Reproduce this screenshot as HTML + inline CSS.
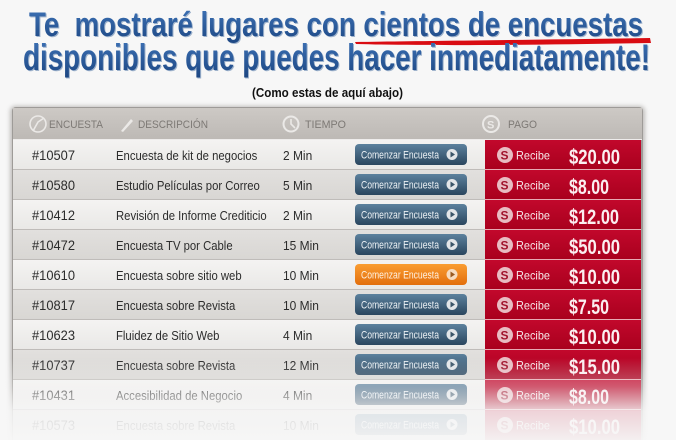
<!DOCTYPE html>
<html><head><meta charset="utf-8"><style>
html,body{margin:0;padding:0;background:#f7f7f7;}
svg{display:block;}
text{font-family:"Liberation Sans",sans-serif;}
</style></head><body>
<svg width="676" height="440" viewBox="0 0 676 440" xmlns="http://www.w3.org/2000/svg">
<defs>
<linearGradient id="tg" x1="0" y1="0" x2="0" y2="1"><stop offset="0" stop-color="#3f74b8"/><stop offset="1" stop-color="#1c4682"/></linearGradient>
<linearGradient id="hd" x1="0" y1="0" x2="0" y2="1"><stop offset="0" stop-color="#cdc9c5"/><stop offset="1" stop-color="#bdb9b5"/></linearGradient>
<linearGradient id="rl" x1="0" y1="0" x2="0" y2="1"><stop offset="0" stop-color="#f4f3f2"/><stop offset="1" stop-color="#e9e8e6"/></linearGradient>
<linearGradient id="rd" x1="0" y1="0" x2="0" y2="1"><stop offset="0" stop-color="#e2e0de"/><stop offset="1" stop-color="#d8d6d3"/></linearGradient>
<linearGradient id="red" x1="0" y1="0" x2="0" y2="1"><stop offset="0" stop-color="#c2082c"/><stop offset="1" stop-color="#a8001d"/></linearGradient>
<linearGradient id="btn" x1="0" y1="0" x2="0" y2="1"><stop offset="0" stop-color="#5c819d"/><stop offset="1" stop-color="#2a465e"/></linearGradient>
<linearGradient id="ora" x1="0" y1="0" x2="0" y2="1"><stop offset="0" stop-color="#fa9d32"/><stop offset="1" stop-color="#e26e0c"/></linearGradient>
<linearGradient id="fade" x1="0" y1="0" x2="0" y2="1">
<stop offset="0" stop-color="#f7f7f7" stop-opacity="0"/>
<stop offset="0.35" stop-color="#f7f7f7" stop-opacity="0.35"/>
<stop offset="0.65" stop-color="#f7f7f7" stop-opacity="0.85"/>
<stop offset="1" stop-color="#f7f7f7" stop-opacity="0.97"/>
</linearGradient>
<filter id="sh" x="-5%" y="-5%" width="110%" height="110%"><feGaussianBlur stdDeviation="2"/></filter>
</defs>

<rect x="0" y="0" width="676" height="440" fill="#f7f7f7"/>

<!-- Title -->
<path d="M355 42 C420 41 520 40 650 38 L651 43 C540 45 430 46 356 44 Z" fill="#d90c12"/>
<text x="30" y="37" font-size="34" font-weight="bold" fill="#9fb3cc" textLength="614" lengthAdjust="spacingAndGlyphs" style="white-space:pre">Te  mostraré lugares con cientos de encuestas</text>
<text x="29" y="36" font-size="34" font-weight="bold" fill="url(#tg)" textLength="614" lengthAdjust="spacingAndGlyphs" style="white-space:pre">Te  mostraré lugares con cientos de encuestas</text>
<text x="24" y="71" font-size="37" font-weight="bold" fill="#9fb3cc" textLength="627" lengthAdjust="spacingAndGlyphs">disponibles que puedes hacer inmediatamente!</text>
<text x="23" y="70" font-size="37" font-weight="bold" fill="url(#tg)" textLength="627" lengthAdjust="spacingAndGlyphs">disponibles que puedes hacer inmediatamente!</text>
<text x="252" y="97" font-size="13" font-weight="bold" fill="#111" textLength="151" lengthAdjust="spacingAndGlyphs">(Como estas de aquí abajo)</text>

<!-- Frame -->
<rect x="10" y="106" width="635" height="340" rx="5" fill="#a9a6a3" filter="url(#sh)" opacity="0.7"/>
<rect x="12" y="107" width="631" height="340" rx="4" fill="#9e9b98"/>
<rect x="13" y="108" width="629" height="31" fill="url(#hd)"/>
<line x1="13" y1="139.5" x2="642" y2="139.5" stroke="#eeeceb" stroke-width="1"/>

<!-- Header icons and labels -->
<g fill="none" stroke="#ebe9e7" stroke-width="1.6">
<circle cx="38" cy="124" r="8"/>
<path d="M33 131 L38 122 L44 118"/>
<circle cx="291" cy="124" r="7.5" stroke-width="2"/>
<path d="M291 119 L291 124 L295 128" stroke-width="1.6"/>
<circle cx="491" cy="124" r="8" stroke-width="2"/>
</g>
<path d="M121 131 L131 119 L133 121 L123 132 Z" fill="#ebe9e7"/>
<text x="487" y="128.5" font-size="11" font-weight="bold" fill="#ebe9e7">S</text>
<g font-size="11" fill="#7d7975">
<text x="49" y="128" textLength="54" lengthAdjust="spacingAndGlyphs">ENCUESTA</text>
<text x="138" y="128" textLength="70" lengthAdjust="spacingAndGlyphs">DESCRIPCIÓN</text>
<text x="305" y="128" textLength="41" lengthAdjust="spacingAndGlyphs">TIEMPO</text>
<text x="508" y="128" textLength="29" lengthAdjust="spacingAndGlyphs">PAGO</text>
</g>

<!-- Rows -->
<g id="rows">
<g transform="translate(0,140)">
<rect x="13" y="0" width="472" height="30" fill="url(#rl)"/>
<rect x="485" y="0" width="156" height="30" fill="url(#red)"/>
<line x1="13" y1="29.5" x2="485" y2="29.5" stroke="#bfbcb9"/><line x1="485" y1="29.5" x2="641" y2="29.5" stroke="#e7aab3"/>
<text x="32" y="20" font-size="13.5" fill="#2c2c2c" textLength="43" lengthAdjust="spacingAndGlyphs">#10507</text>
<text x="116" y="20" font-size="13" fill="#2c2c2c" transform="translate(116,0) scale(0.87,1) translate(-116,0)">Encuesta de kit de negocios</text>
<text x="283" y="20" font-size="13" fill="#2c2c2c" transform="translate(283,0) scale(0.92,1) translate(-283,0)">2 Min</text>
<rect x="355" y="4" width="112" height="21" rx="4" fill="url(#btn)"/>
<text x="361" y="18.5" font-size="11" fill="#eef3f6" textLength="78" lengthAdjust="spacingAndGlyphs">Comenzar Encuesta</text>
<circle cx="452" cy="14.5" r="5.5" fill="#e3e6e9"/><path d="M450.5 11.5 L455 14.5 L450.5 17.5 Z" fill="#3b5569"/>
<circle cx="505" cy="15" r="8" fill="#e8bcc2"/><text x="500.5" y="19.5" font-size="12" font-weight="bold" fill="#a0142c">S</text>
<text x="516" y="19.5" font-size="12" fill="#f6e6e8" textLength="34" lengthAdjust="spacingAndGlyphs">Recibe</text>
<text x="569" y="24" font-size="21" font-weight="bold" fill="#fbeef0" textLength="51" lengthAdjust="spacingAndGlyphs">$20.00</text>
</g>

<g transform="translate(0,170)">
<rect x="13" y="0" width="472" height="30" fill="url(#rd)"/>
<rect x="485" y="0" width="156" height="30" fill="url(#red)"/>
<line x1="13" y1="29.5" x2="485" y2="29.5" stroke="#bfbcb9"/><line x1="485" y1="29.5" x2="641" y2="29.5" stroke="#e7aab3"/>
<text x="32" y="20" font-size="13.5" fill="#2c2c2c" textLength="43" lengthAdjust="spacingAndGlyphs">#10580</text>
<text x="116" y="20" font-size="13" fill="#2c2c2c" transform="translate(116,0) scale(0.87,1) translate(-116,0)">Estudio Películas por Correo</text>
<text x="283" y="20" font-size="13" fill="#2c2c2c" transform="translate(283,0) scale(0.92,1) translate(-283,0)">5 Min</text>
<rect x="355" y="4" width="112" height="21" rx="4" fill="url(#btn)"/>
<text x="361" y="18.5" font-size="11" fill="#eef3f6" textLength="78" lengthAdjust="spacingAndGlyphs">Comenzar Encuesta</text>
<circle cx="452" cy="14.5" r="5.5" fill="#e3e6e9"/><path d="M450.5 11.5 L455 14.5 L450.5 17.5 Z" fill="#3b5569"/>
<circle cx="505" cy="15" r="8" fill="#e8bcc2"/><text x="500.5" y="19.5" font-size="12" font-weight="bold" fill="#a0142c">S</text>
<text x="516" y="19.5" font-size="12" fill="#f6e6e8" textLength="34" lengthAdjust="spacingAndGlyphs">Recibe</text>
<text x="569" y="24" font-size="21" font-weight="bold" fill="#fbeef0" textLength="40" lengthAdjust="spacingAndGlyphs">$8.00</text>
</g>

<g transform="translate(0,200)">
<rect x="13" y="0" width="472" height="30" fill="url(#rl)"/>
<rect x="485" y="0" width="156" height="30" fill="url(#red)"/>
<line x1="13" y1="29.5" x2="485" y2="29.5" stroke="#bfbcb9"/><line x1="485" y1="29.5" x2="641" y2="29.5" stroke="#e7aab3"/>
<text x="32" y="20" font-size="13.5" fill="#2c2c2c" textLength="43" lengthAdjust="spacingAndGlyphs">#10412</text>
<text x="116" y="20" font-size="13" fill="#2c2c2c" transform="translate(116,0) scale(0.87,1) translate(-116,0)">Revisión de Informe Crediticio</text>
<text x="283" y="20" font-size="13" fill="#2c2c2c" transform="translate(283,0) scale(0.92,1) translate(-283,0)">2 Min</text>
<rect x="355" y="4" width="112" height="21" rx="4" fill="url(#btn)"/>
<text x="361" y="18.5" font-size="11" fill="#eef3f6" textLength="78" lengthAdjust="spacingAndGlyphs">Comenzar Encuesta</text>
<circle cx="452" cy="14.5" r="5.5" fill="#e3e6e9"/><path d="M450.5 11.5 L455 14.5 L450.5 17.5 Z" fill="#3b5569"/>
<circle cx="505" cy="15" r="8" fill="#e8bcc2"/><text x="500.5" y="19.5" font-size="12" font-weight="bold" fill="#a0142c">S</text>
<text x="516" y="19.5" font-size="12" fill="#f6e6e8" textLength="34" lengthAdjust="spacingAndGlyphs">Recibe</text>
<text x="569" y="24" font-size="21" font-weight="bold" fill="#fbeef0" textLength="50" lengthAdjust="spacingAndGlyphs">$12.00</text>
</g>

<g transform="translate(0,230)">
<rect x="13" y="0" width="472" height="30" fill="url(#rd)"/>
<rect x="485" y="0" width="156" height="30" fill="url(#red)"/>
<line x1="13" y1="29.5" x2="485" y2="29.5" stroke="#bfbcb9"/><line x1="485" y1="29.5" x2="641" y2="29.5" stroke="#e7aab3"/>
<text x="32" y="20" font-size="13.5" fill="#2c2c2c" textLength="43" lengthAdjust="spacingAndGlyphs">#10472</text>
<text x="116" y="20" font-size="13" fill="#2c2c2c" transform="translate(116,0) scale(0.87,1) translate(-116,0)">Encuesta TV por Cable</text>
<text x="283" y="20" font-size="13" fill="#2c2c2c" transform="translate(283,0) scale(0.92,1) translate(-283,0)">15 Min</text>
<rect x="355" y="4" width="112" height="21" rx="4" fill="url(#btn)"/>
<text x="361" y="18.5" font-size="11" fill="#eef3f6" textLength="78" lengthAdjust="spacingAndGlyphs">Comenzar Encuesta</text>
<circle cx="452" cy="14.5" r="5.5" fill="#e3e6e9"/><path d="M450.5 11.5 L455 14.5 L450.5 17.5 Z" fill="#3b5569"/>
<circle cx="505" cy="15" r="8" fill="#e8bcc2"/><text x="500.5" y="19.5" font-size="12" font-weight="bold" fill="#a0142c">S</text>
<text x="516" y="19.5" font-size="12" fill="#f6e6e8" textLength="34" lengthAdjust="spacingAndGlyphs">Recibe</text>
<text x="569" y="24" font-size="21" font-weight="bold" fill="#fbeef0" textLength="51" lengthAdjust="spacingAndGlyphs">$50.00</text>
</g>

<g transform="translate(0,260)">
<rect x="13" y="0" width="472" height="30" fill="url(#rl)"/>
<rect x="485" y="0" width="156" height="30" fill="url(#red)"/>
<line x1="13" y1="29.5" x2="485" y2="29.5" stroke="#bfbcb9"/><line x1="485" y1="29.5" x2="641" y2="29.5" stroke="#e7aab3"/>
<text x="32" y="20" font-size="13.5" fill="#2c2c2c" textLength="43" lengthAdjust="spacingAndGlyphs">#10610</text>
<text x="116" y="20" font-size="13" fill="#2c2c2c" transform="translate(116,0) scale(0.87,1) translate(-116,0)">Encuesta sobre sitio web</text>
<text x="283" y="20" font-size="13" fill="#2c2c2c" transform="translate(283,0) scale(0.92,1) translate(-283,0)">10 Min</text>
<rect x="355" y="4" width="112" height="21" rx="4" fill="url(#ora)"/>
<text x="361" y="18.5" font-size="11" fill="#fff2e2" textLength="78" lengthAdjust="spacingAndGlyphs">Comenzar Encuesta</text>
<circle cx="452" cy="14.5" r="5.5" fill="#f6dcc0"/><path d="M450.5 11.5 L455 14.5 L450.5 17.5 Z" fill="#9a5a20"/>
<circle cx="505" cy="15" r="8" fill="#e8bcc2"/><text x="500.5" y="19.5" font-size="12" font-weight="bold" fill="#a0142c">S</text>
<text x="516" y="19.5" font-size="12" fill="#f6e6e8" textLength="34" lengthAdjust="spacingAndGlyphs">Recibe</text>
<text x="569" y="24" font-size="21" font-weight="bold" fill="#fbeef0" textLength="51" lengthAdjust="spacingAndGlyphs">$10.00</text>
</g>

<g transform="translate(0,290)">
<rect x="13" y="0" width="472" height="30" fill="url(#rd)"/>
<rect x="485" y="0" width="156" height="30" fill="url(#red)"/>
<line x1="13" y1="29.5" x2="485" y2="29.5" stroke="#bfbcb9"/><line x1="485" y1="29.5" x2="641" y2="29.5" stroke="#e7aab3"/>
<text x="32" y="20" font-size="13.5" fill="#2c2c2c" textLength="43" lengthAdjust="spacingAndGlyphs">#10817</text>
<text x="116" y="20" font-size="13" fill="#2c2c2c" transform="translate(116,0) scale(0.87,1) translate(-116,0)">Encuesta sobre Revista</text>
<text x="283" y="20" font-size="13" fill="#2c2c2c" transform="translate(283,0) scale(0.92,1) translate(-283,0)">10 Min</text>
<rect x="355" y="4" width="112" height="21" rx="4" fill="url(#btn)"/>
<text x="361" y="18.5" font-size="11" fill="#eef3f6" textLength="78" lengthAdjust="spacingAndGlyphs">Comenzar Encuesta</text>
<circle cx="452" cy="14.5" r="5.5" fill="#e3e6e9"/><path d="M450.5 11.5 L455 14.5 L450.5 17.5 Z" fill="#3b5569"/>
<circle cx="505" cy="15" r="8" fill="#e8bcc2"/><text x="500.5" y="19.5" font-size="12" font-weight="bold" fill="#a0142c">S</text>
<text x="516" y="19.5" font-size="12" fill="#f6e6e8" textLength="34" lengthAdjust="spacingAndGlyphs">Recibe</text>
<text x="569" y="24" font-size="21" font-weight="bold" fill="#fbeef0" textLength="40" lengthAdjust="spacingAndGlyphs">$7.50</text>
</g>

<g transform="translate(0,320)">
<rect x="13" y="0" width="472" height="30" fill="url(#rl)"/>
<rect x="485" y="0" width="156" height="30" fill="url(#red)"/>
<line x1="13" y1="29.5" x2="485" y2="29.5" stroke="#bfbcb9"/><line x1="485" y1="29.5" x2="641" y2="29.5" stroke="#e7aab3"/>
<text x="32" y="20" font-size="13.5" fill="#2c2c2c" textLength="43" lengthAdjust="spacingAndGlyphs">#10623</text>
<text x="116" y="20" font-size="13" fill="#2c2c2c" transform="translate(116,0) scale(0.87,1) translate(-116,0)">Fluidez de Sitio Web</text>
<text x="283" y="20" font-size="13" fill="#2c2c2c" transform="translate(283,0) scale(0.92,1) translate(-283,0)">4 Min</text>
<rect x="355" y="4" width="112" height="21" rx="4" fill="url(#btn)"/>
<text x="361" y="18.5" font-size="11" fill="#eef3f6" textLength="78" lengthAdjust="spacingAndGlyphs">Comenzar Encuesta</text>
<circle cx="452" cy="14.5" r="5.5" fill="#e3e6e9"/><path d="M450.5 11.5 L455 14.5 L450.5 17.5 Z" fill="#3b5569"/>
<circle cx="505" cy="15" r="8" fill="#e8bcc2"/><text x="500.5" y="19.5" font-size="12" font-weight="bold" fill="#a0142c">S</text>
<text x="516" y="19.5" font-size="12" fill="#f6e6e8" textLength="34" lengthAdjust="spacingAndGlyphs">Recibe</text>
<text x="569" y="24" font-size="21" font-weight="bold" fill="#fbeef0" textLength="51" lengthAdjust="spacingAndGlyphs">$10.00</text>
</g>

<g transform="translate(0,350)">
<rect x="13" y="0" width="472" height="30" fill="url(#rd)"/>
<rect x="485" y="0" width="156" height="30" fill="url(#red)"/>
<line x1="13" y1="29.5" x2="485" y2="29.5" stroke="#bfbcb9"/><line x1="485" y1="29.5" x2="641" y2="29.5" stroke="#e7aab3"/>
<text x="32" y="20" font-size="13.5" fill="#2c2c2c" textLength="43" lengthAdjust="spacingAndGlyphs">#10737</text>
<text x="116" y="20" font-size="13" fill="#2c2c2c" transform="translate(116,0) scale(0.87,1) translate(-116,0)">Encuesta sobre Revista</text>
<text x="283" y="20" font-size="13" fill="#2c2c2c" transform="translate(283,0) scale(0.92,1) translate(-283,0)">12 Min</text>
<rect x="355" y="4" width="112" height="21" rx="4" fill="url(#btn)"/>
<text x="361" y="18.5" font-size="11" fill="#eef3f6" textLength="78" lengthAdjust="spacingAndGlyphs">Comenzar Encuesta</text>
<circle cx="452" cy="14.5" r="5.5" fill="#e3e6e9"/><path d="M450.5 11.5 L455 14.5 L450.5 17.5 Z" fill="#3b5569"/>
<circle cx="505" cy="15" r="8" fill="#e8bcc2"/><text x="500.5" y="19.5" font-size="12" font-weight="bold" fill="#a0142c">S</text>
<text x="516" y="19.5" font-size="12" fill="#f6e6e8" textLength="34" lengthAdjust="spacingAndGlyphs">Recibe</text>
<text x="569" y="24" font-size="21" font-weight="bold" fill="#fbeef0" textLength="51" lengthAdjust="spacingAndGlyphs">$15.00</text>
</g>

<g transform="translate(0,380)">
<rect x="13" y="0" width="472" height="30" fill="url(#rl)"/>
<rect x="485" y="0" width="156" height="30" fill="url(#red)"/>
<line x1="13" y1="29.5" x2="485" y2="29.5" stroke="#bfbcb9"/><line x1="485" y1="29.5" x2="641" y2="29.5" stroke="#e7aab3"/>
<text x="32" y="20" font-size="13.5" fill="#2c2c2c" textLength="43" lengthAdjust="spacingAndGlyphs">#10431</text>
<text x="116" y="20" font-size="13" fill="#2c2c2c" transform="translate(116,0) scale(0.87,1) translate(-116,0)">Accesibilidad de Negocio</text>
<text x="283" y="20" font-size="13" fill="#2c2c2c" transform="translate(283,0) scale(0.92,1) translate(-283,0)">4 Min</text>
<rect x="355" y="4" width="112" height="21" rx="4" fill="url(#btn)"/>
<text x="361" y="18.5" font-size="11" fill="#eef3f6" textLength="78" lengthAdjust="spacingAndGlyphs">Comenzar Encuesta</text>
<circle cx="452" cy="14.5" r="5.5" fill="#e3e6e9"/><path d="M450.5 11.5 L455 14.5 L450.5 17.5 Z" fill="#3b5569"/>
<circle cx="505" cy="15" r="8" fill="#e8bcc2"/><text x="500.5" y="19.5" font-size="12" font-weight="bold" fill="#a0142c">S</text>
<text x="516" y="19.5" font-size="12" fill="#f6e6e8" textLength="34" lengthAdjust="spacingAndGlyphs">Recibe</text>
<text x="569" y="24" font-size="21" font-weight="bold" fill="#fbeef0" textLength="40" lengthAdjust="spacingAndGlyphs">$8.00</text>
</g>

<g transform="translate(0,410)">
<rect x="13" y="0" width="472" height="30" fill="url(#rd)"/>
<rect x="485" y="0" width="156" height="30" fill="url(#red)"/>
<text x="32" y="20" font-size="13.5" fill="#2c2c2c" textLength="43" lengthAdjust="spacingAndGlyphs">#10573</text>
<text x="116" y="20" font-size="13" fill="#2c2c2c" transform="translate(116,0) scale(0.87,1) translate(-116,0)">Encuesta sobre Revista</text>
<text x="283" y="20" font-size="13" fill="#2c2c2c" transform="translate(283,0) scale(0.92,1) translate(-283,0)">10 Min</text>
<rect x="355" y="4" width="112" height="21" rx="4" fill="url(#btn)"/>
<text x="361" y="18.5" font-size="11" fill="#eef3f6" textLength="78" lengthAdjust="spacingAndGlyphs">Comenzar Encuesta</text>
<circle cx="452" cy="14.5" r="5.5" fill="#e3e6e9"/><path d="M450.5 11.5 L455 14.5 L450.5 17.5 Z" fill="#3b5569"/>
<circle cx="505" cy="15" r="8" fill="#e8bcc2"/><text x="500.5" y="19.5" font-size="12" font-weight="bold" fill="#a0142c">S</text>
<text x="516" y="19.5" font-size="12" fill="#f6e6e8" textLength="34" lengthAdjust="spacingAndGlyphs">Recibe</text>
<text x="569" y="24" font-size="21" font-weight="bold" fill="#fbeef0" textLength="51" lengthAdjust="spacingAndGlyphs">$10.00</text>
</g>
</g>

<!-- bottom fade -->
<rect x="0" y="358" width="676" height="82" fill="url(#fade)"/>
</svg>
</body></html>
